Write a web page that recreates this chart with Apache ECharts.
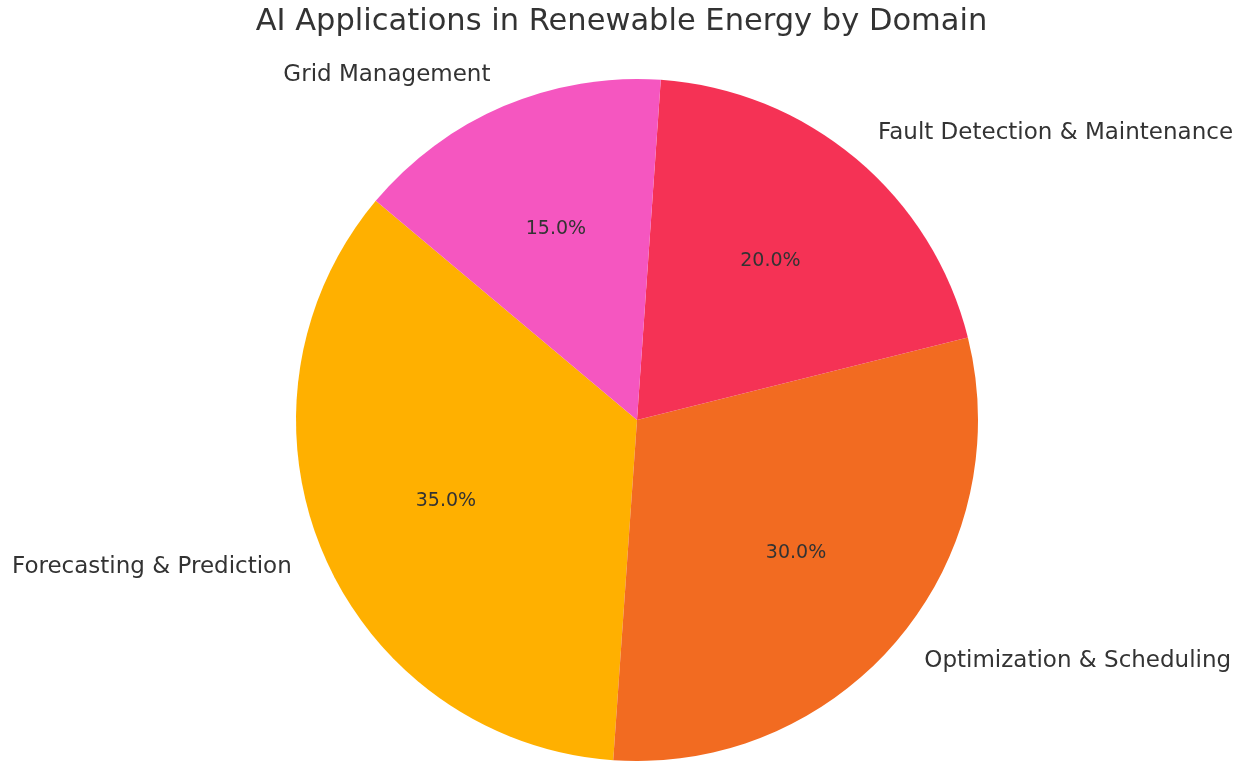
<!DOCTYPE html>
<html>
<head>
<meta charset="utf-8">
<script src="https://cdn.jsdelivr.net/npm/echarts@6/dist/echarts.min.js"></script>
<style>
  html, body { margin: 0; padding: 0; background: #fff; }
  #main { width: 1243px; height: 761px; }
</style>
</head>
<body>
<div id="main"></div>
<script>
// data
var domains = ['Forecasting & Prediction', 'Optimization & Scheduling', 'Fault Detection & Maintenance', 'Grid Management'];
var shares = [35, 30, 20, 15];
var sliceColors = ['#FFB000', '#F26B21', '#F53255', '#F556C0'];

var chart = echarts.init(document.getElementById('main'));

var pieData = [];
for (var i = 0; i < domains.length; i++) {
    pieData.push({ name: domains[i], value: shares[i], itemStyle: { color: sliceColors[i] } });
}

var R = 341;
var option = {
    backgroundColor: '#fff',
    animation: false,
    textStyle: { fontFamily: 'DejaVu Sans' },
    title: {
        text: 'AI Applications in Renewable Energy by Domain',
        left: 'center',
        top: 2,
        textStyle: { fontFamily: 'DejaVu Sans', fontSize: 30.5, fontWeight: 'normal', color: '#333' }
    },
    series: [
        {
            // slices + outer category labels
            type: 'pie',
            center: [637, 420],
            radius: [0, R],
            startAngle: 140,
            clockwise: false,
            data: pieData,
            label: {
                show: true,
                position: 'outside',
                formatter: '{b}',
                fontFamily: 'DejaVu Sans',
                fontSize: 23,
                color: '#333',
                overflow: 'none',
                distanceToLabelLine: 0
            },
            labelLine: { show: false, length: R * 0.1, length2: 0 },
            emphasis: { disabled: true }
        },
        {
            // invisible ring that carries the percentage labels at 0.6 r
            type: 'pie',
            center: [637, 420],
            radius: [R * 0.5, R * 0.7],
            startAngle: 140,
            clockwise: false,
            silent: true,
            data: pieData.map(function (d) {
                return { name: d.name, value: d.value, itemStyle: { color: 'rgba(0,0,0,0)' } };
            }),
            label: {
                show: true,
                position: 'inside',
                formatter: function (p) { return p.value.toFixed(1) + '%'; },
                fontFamily: 'DejaVu Sans',
                fontSize: 19,
                color: '#333'
            },
            labelLine: { show: false },
            emphasis: { disabled: true }
        }
    ]
};
chart.setOption(option);
</script>
</body>
</html>
